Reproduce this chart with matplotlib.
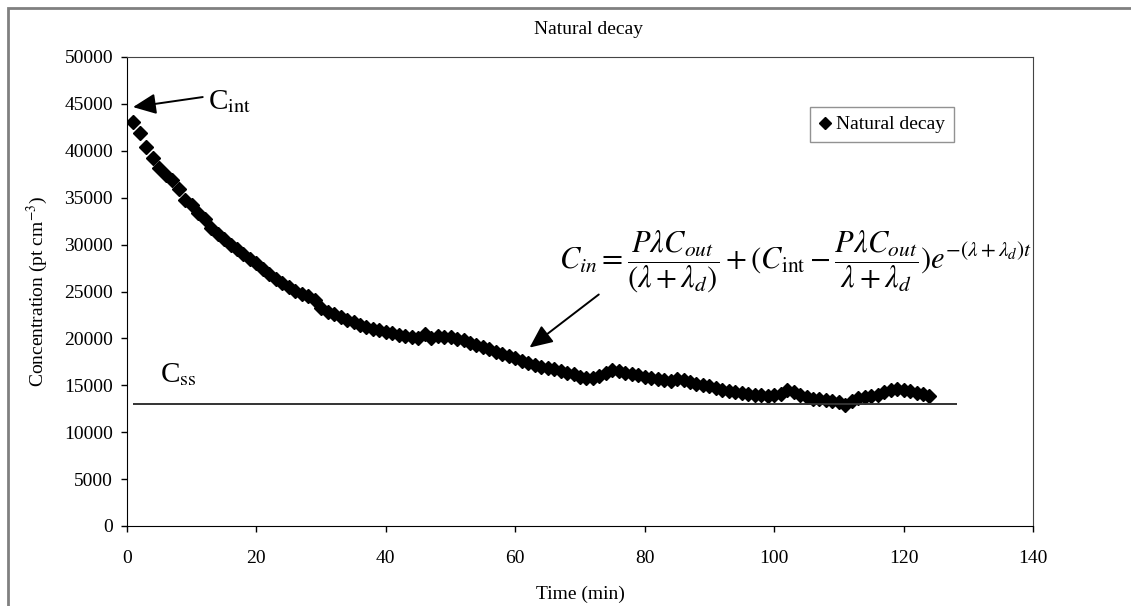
import numpy as np
import matplotlib.pyplot as plt
from matplotlib.patches import Rectangle

# datos
tiempo = np.arange(1, 125)  # min
concentracion = [
    43100, 41950, 40450, 39200, 38200, 37400, 36900, 35900, 34800, 34200,
    33400, 32700, 31800, 31100, 30600, 30000, 29500, 29000, 28500, 28000,
    27400, 26900, 26300, 25900, 25500, 25100, 24700, 24500, 24100, 23200,
    22800, 22600, 22300, 22000, 21700, 21400, 21200, 21000, 20900, 20700,
    20600, 20400, 20300, 20100, 20000, 20500, 20000, 20300, 20200, 20100,
    19900, 19800, 19500, 19300, 19100, 18900, 18600, 18300, 18100, 17900,
    17600, 17400, 17200, 17000, 16800, 16700, 16500, 16300, 16200, 15900,
    15800, 15800, 16000, 16300, 16600, 16500, 16300, 16200, 16100, 15900,
    15800, 15700, 15600, 15500, 15700, 15600, 15300, 15100, 15000, 14900,
    14700, 14500, 14400, 14300, 14200, 14100, 14000, 14000, 13900, 14000,
    14100, 14500, 14300, 14000, 13700, 13500, 13500, 13400, 13300, 13200,
    12900, 13300, 13600, 13800, 13900, 14000, 14300, 14500, 14600, 14500,
    14400, 14200, 14100, 13900,
]
c_ss = 13000
t_ss = [1, 128.3]
x_ticks = [0, 20, 40, 60, 80, 100, 120, 140]
y_ticks = [0, 5000, 10000, 15000, 20000, 25000, 30000, 35000, 40000, 45000, 50000]

plt.rcParams['font.family'] = ['Liberation Serif', 'DejaVu Serif']
plt.rcParams['mathtext.fontset'] = 'stix'

fig = plt.figure(figsize=(11.31, 6.06), dpi=100)
ax = fig.add_axes([127 / 1131, 1 - 526 / 606, (1033 - 127) / 1131, (526 - 57) / 606])

# marco gris de la figura
fig.patches.append(Rectangle((8 / 1131, -0.1), 1.2, 1 - 8 / 606 + 0.1, transform=fig.transFigure,
                             fill=False, edgecolor='#808080', lw=2))

# serie
ax.plot(tiempo, concentracion, linestyle='none', marker='D', ms=7.5, color='black',
        mec='black', label='Natural decay')
ax.hlines(c_ss, t_ss[0], t_ss[1], color='#333333', lw=1.4)

ax.set_xlim(0, 140)
ax.set_ylim(0, 50000)
ax.set_xticks(x_ticks)
ax.set_yticks(y_ticks)
ax.tick_params(labelsize=14, direction='out', length=4, width=1)
ax.tick_params(axis='x', pad=13)
ax.tick_params(axis='y', pad=6)
for s in ['top', 'right']:
    ax.spines[s].set_color('#444444')
ax.set_xlabel('Time (min)', fontsize=14, labelpad=14)
ax.set_ylabel('Concentration (pt cm$^{-3}$)', fontsize=14, labelpad=10)

fig.text(588 / 1131, 1 - 29 / 606, 'Natural decay', fontsize=14, ha='center', va='center')

leg = ax.legend(loc='upper left', bbox_to_anchor=((810 - 127) / 906, 1 - (107 - 57) / 469),
                fontsize=14, frameon=True, fancybox=False, edgecolor='#777777',
                handlelength=0.6, handletextpad=0.3, borderpad=0.45, borderaxespad=0,
                markerscale=0.8)
leg.get_frame().set_linewidth(1)

# anotaciones
flecha = dict(arrowstyle='-|>,head_length=1.0,head_width=0.45', mutation_scale=14,
              color='black', lw=1.4, shrinkA=0, shrinkB=0)
ax.annotate('', xy=(0.93, 44660), xytext=(11.7, 45730), arrowprops=flecha)
ax.text(12.5, 44400, r'C$_{\mathrm{int}}$', fontsize=21, ha='left', va='baseline')
ax.text(5.1, 15380, r'C$_{\mathrm{ss}}$', fontsize=21, ha='left', va='baseline')

ax.annotate('', xy=(62.2, 19020), xytext=(72.9, 24680), arrowprops=flecha)
formula = (r'$C_{in}=\dfrac{P\lambda C_{out}}{(\lambda+\lambda_d)}+(C_{\mathrm{int}}-'
           r'\dfrac{P\lambda C_{out}}{\lambda+\lambda_d})e^{-(\lambda+\lambda_d)t}$')
ax.text(66.7, 28200, formula, fontsize=22, ha='left', va='center')

fig.savefig('out.png', dpi=100)
